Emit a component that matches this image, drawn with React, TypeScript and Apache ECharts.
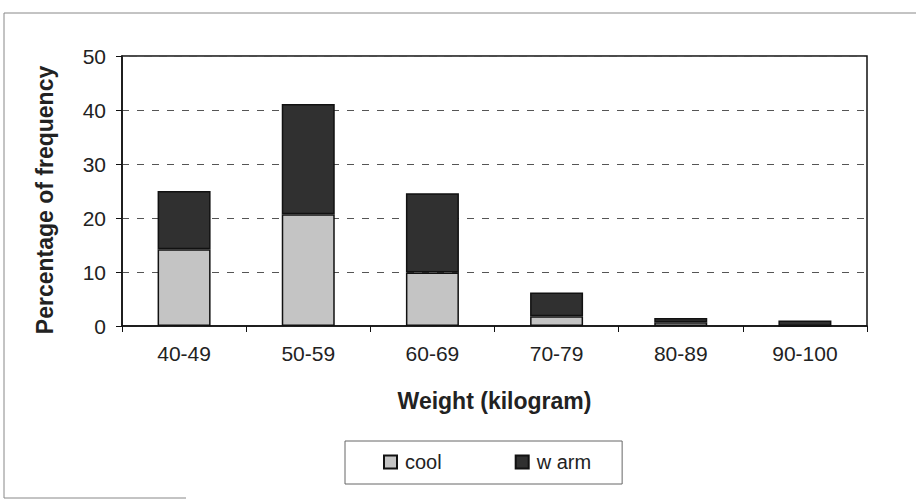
import React, { useEffect, useRef } from "react";
import * as echarts from "echarts";

const categories = ["40-49", "50-59", "60-69", "70-79", "80-89", "90-100"];
const coolValues = [14.2, 20.7, 9.9, 1.8, 0.7, 0];
const warmValues = [10.8, 20.4, 14.7, 4.4, 0.8, 1.0];
const seriesNames = ["cool", "w arm"];
const yTicks = [0, 10, 20, 30, 40, 50];
const yAxisTitle = "Percentage of frequency";
const xAxisTitle = "Weight (kilogram)";

const FONT = "'Liberation Sans', Arial, sans-serif";

export default function App() {
  const ref = useRef<HTMLDivElement>(null);
  useEffect(() => {
    if (!ref.current) return;
    const chart = echarts.init(ref.current, undefined, { renderer: "svg" });
    chart.setOption({
      animation: false,
      backgroundColor: "#ffffff",
      textStyle: { fontFamily: FONT },
      grid: {
        left: 122,
        right: 49,
        top: 56,
        bottom: 175,
        show: true,
        borderColor: "#111",
        borderWidth: 1.5,
        backgroundColor: "transparent",
      },
      legend: {
        left: 345,
        top: 441,
        orient: "horizontal",
        itemWidth: 13,
        itemHeight: 13,
        itemGap: 73,
        padding: [11, 31, 12, 38],
        borderColor: "#666",
        borderWidth: 1,
        textStyle: { fontFamily: FONT, fontSize: 20, color: "#222", padding: [0, 0, 4, 3] },
        data: seriesNames.map((n) => ({ name: n, icon: "rect" })),
      },
      xAxis: {
        type: "category",
        data: categories,
        name: xAxisTitle,
        nameLocation: "middle",
        nameGap: 63,
        nameTextStyle: { fontFamily: FONT, fontSize: 23, fontWeight: "bold", color: "#222" },
        axisLine: { show: true, lineStyle: { color: "#111", width: 1.5 } },
        axisTick: { show: true, length: 6, lineStyle: { color: "#111" }, alignWithLabel: false },
        axisLabel: { fontFamily: FONT, fontSize: 21, color: "#222", margin: 17 },
        splitLine: { show: false },
      },
      yAxis: {
        type: "value",
        min: yTicks[0],
        max: yTicks[yTicks.length - 1],
        interval: 10,
        axisLine: { show: true, lineStyle: { color: "#111", width: 1.5 } },
        axisTick: { show: true, length: 6, lineStyle: { color: "#111" } },
        axisLabel: { fontFamily: FONT, fontSize: 21, color: "#222", margin: 16 },
        splitLine: {
          show: true,
          lineStyle: { color: "#555", type: [7, 8], width: 1 },
        },
      },
      series: [
        {
          name: seriesNames[0],
          type: "bar",
          stack: "total",
          data: coolValues,
          barWidth: 53,
          itemStyle: { color: "#c4c4c4", borderColor: "#111", borderWidth: 1.5 },
        },
        {
          name: seriesNames[1],
          type: "bar",
          stack: "total",
          data: warmValues,
          barWidth: 53,
          itemStyle: { color: "#303030", borderColor: "#111", borderWidth: 1.5 },
        },
      ],
      graphic: [
        { type: "line", shape: { x1: 4, y1: 13, x2: 916, y2: 13 }, style: { stroke: "#888", lineWidth: 1 } },
        { type: "line", shape: { x1: 4, y1: 13, x2: 4, y2: 498 }, style: { stroke: "#888", lineWidth: 1 } },
        { type: "line", shape: { x1: 4, y1: 498, x2: 186, y2: 498 }, style: { stroke: "#888", lineWidth: 1 } },
        {
          type: "text",
          x: 45,
          y: 200,
          rotation: Math.PI / 2,
          style: {
            text: yAxisTitle,
            fontFamily: FONT,
            fontSize: 23,
            fontWeight: "bold",
            fill: "#222",
            align: "center",
            verticalAlign: "middle",
          },
        },
      ],
    });
    return () => chart.dispose();
  }, []);
  return (
    <div
      ref={ref}
      style={{ position: "fixed", left: 0, top: 0, width: 916, height: 501 }}
    />
  );
}
